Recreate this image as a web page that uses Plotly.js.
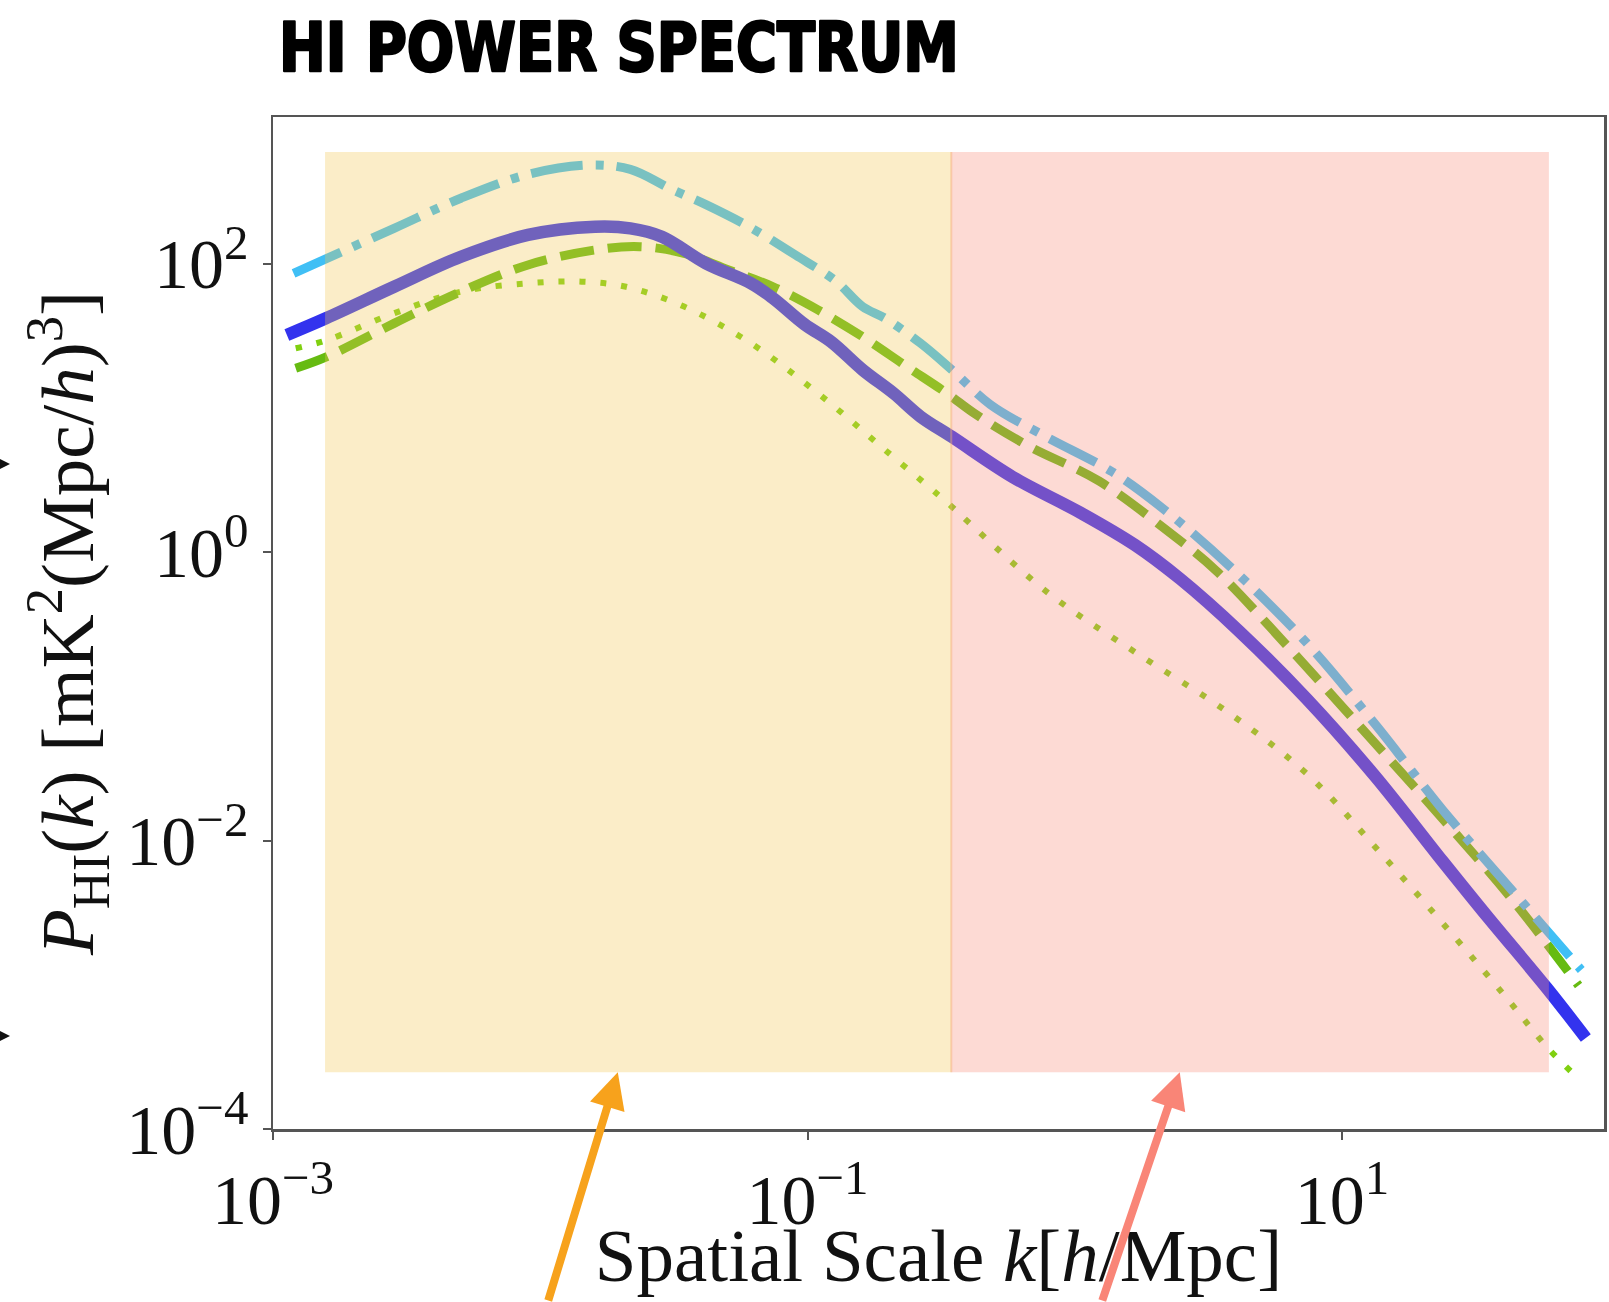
<!DOCTYPE html>
<html>
<head>
<meta charset="utf-8">
<script src="https://cdn.plot.ly/plotly-3.0.1.min.js"></script>
<style>
  html, body { margin: 0; padding: 0; background: #ffffff; }
  #chart { width: 1609px; height: 1302px; }
</style>
</head>
<body>
<div id="chart"></div>
<script>
// ---- data (k in h/Mpc, P in mK^2 (Mpc/h)^3) ----
const kSolid = [0.001127, 0.001578, 0.002838, 0.005047, 0.008995, 0.01603, 0.02173, 0.02851, 0.04169, 0.06138, 0.0743, 0.0975, 0.1225, 0.1607, 0.2104, 0.2649, 0.3467, 0.5861, 1.054, 1.679, 2.483, 4.111, 7.379, 13.27, 23.82, 35.08, 58.34, 81.66];
const pSolid = [32.1, 41.9, 69.3, 111.9, 158.5, 180.7, 176.2, 154.2, 100.7, 73.3, 57.7, 38.0, 28.8, 18.4, 12.6, 8.71, 6.31, 3.32, 1.871, 1.122, 0.6516, 0.2844, 0.0959, 0.02805, 0.007161, 0.00295, 0.0009506, 0.0004276];

const kDashDot = [0.001194, 0.001592, 0.002838, 0.005047, 0.008995, 0.01507, 0.02173, 0.03076, 0.04169, 0.06138, 0.09016, 0.1276, 0.1607, 0.195, 0.2649, 0.3467, 0.4831, 0.7709, 1.384, 2.123, 3.811, 7.379, 13.27, 23.82, 48.08, 78.5];
const pDashDot = [85.9, 109.1, 176.2, 285.0, 417.0, 484.0, 452.0, 331.0, 257.0, 178.0, 115.0, 75.9, 50.5, 41.9, 28.1, 18.4, 10.57, 6.40, 3.597, 2.028, 0.7943, 0.2344, 0.06442, 0.01629, 0.003606, 0.001268];

const kDashed = [0.001216, 0.001592, 0.002838, 0.005047, 0.008995, 0.01603, 0.0235, 0.03451, 0.0507, 0.0743, 0.1094, 0.1607, 0.2355, 0.3334, 0.4217, 0.6607, 1.23, 2.213, 3.388, 6.324, 12.27, 23.82, 42.76, 76.7];
const pDashed = [18.84, 22.7, 38.64, 64.12, 98.2, 124.7, 131.5, 118.3, 90.6, 69.3, 47.9, 31.2, 19.36, 12.6, 9.16, 5.534, 3.119, 1.413, 0.7413, 0.2178, 0.05572, 0.01413, 0.004018, 0.000989];

const kDotted = [0.001216, 0.001592, 0.002838, 0.005047, 0.008995, 0.01426, 0.02094, 0.03451, 0.06138, 0.1094, 0.195, 0.3467, 0.3981, 0.8017, 1.683, 3.673, 7.396, 13.8, 25.76, 41.11, 58.34, 73.6];
const pDotted = [25.94, 29.58, 45.4, 64.1, 73.3, 75.2, 69.3, 50.5, 28.1, 12.65, 5.117, 2.07, 1.629, 0.5152, 0.2023, 0.07943, 0.02897, 0.008375, 0.002254, 0.000818, 0.0003707, 0.00024];

// shaded k-bands (large scales | small scales) and their P extent
const bandK = [0.001566, 0.345, 59.4];
const bandP = [0.000247, 596];
// where the two arrows point (k values at the bottom of each band)
const arrowK = [0.0195, 2.47];

const xTickVals = [0.001, 0.1, 10];
const xTickText = ['10<sup>\u22123</sup>', '10<sup>\u22121</sup>', '10<sup>1</sup>'];
const yTickVals = [0.0001, 0.01, 1, 100];
const yTickText = ['10<sup>\u22124</sup>', '10<sup>\u22122</sup>', '10<sup>0</sup>', '10<sup>2</sup>'];

// ---- figure ----
const serif = 'Liberation Serif, Times New Roman, serif';

const traces = [
  {x: kDotted, y: pDotted, type: 'scatter', mode: 'lines', name: 'dotted',
   line: {color: '#80d010', width: 6, dash: '6px,15px', shape: 'spline', smoothing: 1}},
  {x: kDashed, y: pDashed, type: 'scatter', mode: 'lines', name: 'dashed',
   line: {color: '#66bb11', width: 9, dash: '34px,14px', shape: 'spline', smoothing: 1}},
  {x: kDashDot, y: pDashDot, type: 'scatter', mode: 'lines', name: 'dashdot',
   line: {color: '#40bff5', width: 9, dash: '52px,13px,8px,13px', shape: 'spline', smoothing: 1}},
  {x: kSolid, y: pSolid, type: 'scatter', mode: 'lines', name: 'solid',
   line: {color: '#3333ee', width: 12.5, shape: 'spline', smoothing: 1}}
];

const shapes = [
  {type: 'rect', xref: 'x', yref: 'y', x0: bandK[0], x1: bandK[1], y0: bandP[0], y1: bandP[1],
   fillcolor: '#f2c853', opacity: 0.32, line: {width: 0}, layer: 'above'},
  {type: 'rect', xref: 'x', yref: 'y', x0: bandK[1], x1: bandK[2], y0: bandP[0], y1: bandP[1],
   fillcolor: '#f98f7d', opacity: 0.33, line: {width: 0}, layer: 'above'},
  {type: 'line', xref: 'x', yref: 'y', x0: bandK[1], x1: bandK[1], y0: bandP[0], y1: bandP[1],
   line: {color: 'rgba(246,170,110,0.45)', width: 2}, layer: 'above'}
];

const annotations = [
  {xref: 'x', yref: 'y', x: Math.log10(arrowK[0]), y: Math.log10(bandP[0]), text: '',
   showarrow: true, arrowhead: 2, arrowsize: 0.9, arrowwidth: 8, arrowcolor: '#f7a21c',
   ax: -70, ay: 275, standoff: 0},
  {xref: 'x', yref: 'y', x: Math.log10(arrowK[1]), y: Math.log10(bandP[0]), text: '',
   showarrow: true, arrowhead: 2, arrowsize: 0.9, arrowwidth: 8, arrowcolor: '#f98577',
   ax: -78, ay: 272, standoff: 0},
  {xref: 'paper', yref: 'paper', x: -0.1976, y: 0.657, text: '',
   showarrow: true, arrowhead: 2, arrowsize: 2.2, arrowwidth: 2, arrowcolor: '#111111',
   ax: -80, ay: 0, standoff: 0},
  {xref: 'paper', yref: 'paper', x: -0.1976, y: 0.092, text: '',
   showarrow: true, arrowhead: 2, arrowsize: 2.2, arrowwidth: 2, arrowcolor: '#111111',
   ax: -80, ay: 0, standoff: 0}
];

const layout = {
  width: 1609, height: 1302,
  paper_bgcolor: '#ffffff', plot_bgcolor: '#ffffff',
  showlegend: false,
  margin: {l: 273, r: 5, t: 117, b: 173, pad: 0},
  title: {
    text: '<b>HI POWER SPECTRUM</b>',
    font: {family: 'DejaVu Sans Condensed, DejaVu Sans, sans-serif', size: 68, color: '#000000', weight: 900},
    xref: 'container', yref: 'container', x: 279 / 1609, xanchor: 'left', y: 1 - 47 / 1302, yanchor: 'middle'
  },
  xaxis: {
    type: 'log', range: [-3, 1.98],
    tickmode: 'array', tickvals: xTickVals, ticktext: xTickText,
    ticks: 'outside', ticklen: 8, tickwidth: 2, tickcolor: '#555555',
    showline: true, linecolor: '#555555', linewidth: 2.5, mirror: true,
    showgrid: false, zeroline: false,
    tickfont: {family: serif, size: 70, color: '#111111'},
    title: {text: 'Spatial Scale <i>k</i>[<i>h</i>/Mpc]', font: {family: serif, size: 75, color: '#111111'}, standoff: 0}
  },
  yaxis: {
    type: 'log', range: [-4, 3.018],
    tickmode: 'array', tickvals: yTickVals, ticktext: yTickText,
    ticks: 'outside', ticklen: 8, tickwidth: 2, tickcolor: '#555555',
    showline: true, linecolor: '#555555', linewidth: 2.5, mirror: true,
    showgrid: false, zeroline: false,
    tickfont: {family: serif, size: 70, color: '#111111'},
    title: {text: '<i>P</i><sub>HI</sub>(<i>k</i>) [mK<sup>2</sup>(Mpc/<i>h</i>)<sup>3</sup>]', font: {family: serif, size: 75, color: '#111111'}, standoff: 8}
  },
  shapes: shapes,
  annotations: annotations
};

Plotly.newPlot('chart', traces, layout, {displayModeBar: false, staticPlot: true}).then(function (gd) {
  // make the title heavier and narrower, like the condensed poster face of the reference
  const t = gd.querySelector('.gtitle');
  if (t) {
    const x = parseFloat(t.getAttribute('x')) || 0;
    const bb = t.getBBox();
    const target = 680;
    const s = bb.width > 0 ? Math.min(1, target / bb.width) : 1;
    t.setAttribute('transform', 'translate(' + x + ',0) scale(' + s + ',1) translate(' + (-x) + ',0)');
    t.style.stroke = '#000000';
    t.style.strokeWidth = '2.5px';
    t.style.strokeLinejoin = 'round';
  }
  // nudge the x-axis title up a little, as in the reference
  const xt = gd.querySelector('.g-xtitle');
  if (xt) { xt.setAttribute('transform', 'translate(0,-9)'); }
});
</script>
</body>
</html>
